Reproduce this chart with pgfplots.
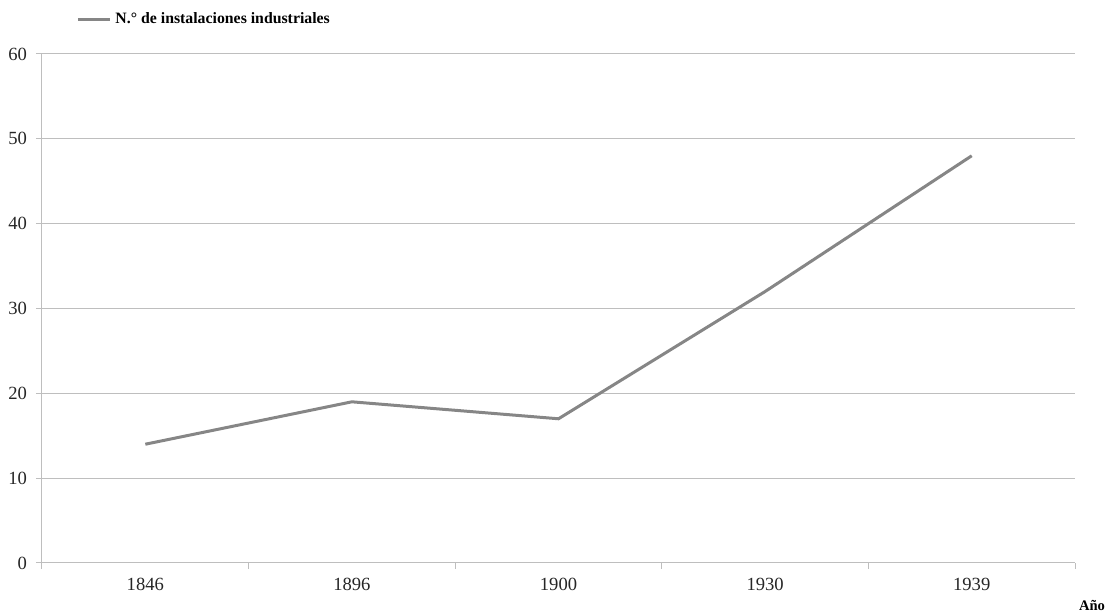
\documentclass[border=0pt]{standalone}
\usepackage{pgfplots}
\pgfplotsset{compat=1.18}
\usepackage{fontspec}
\setmainfont{Liberation Serif}
\definecolor{linegray}{RGB}{134,134,134}
\definecolor{gridgray}{RGB}{190,190,190}
\begin{document}
\begin{tikzpicture}
\path[use as bounding box] (0pt,0pt) rectangle (555.5pt,306.5pt);
\begin{axis}[
  at={(21pt,25pt)}, anchor=south west,
  scale only axis,
  width=516.5pt, height=254.5pt,
  xmin=-0.5, xmax=4.5, ymin=0, ymax=60,
  xtick={0,1,2,3,4},
  xticklabels={1846,1896,1900,1930,1939},
  minor xtick={-0.5,0.5,1.5,2.5,3.5,4.5},
  ytick={0,10,20,30,40,50,60},
  ymajorgrids,
  grid style={gridgray, line width=0.5pt},
  axis x line*=bottom, axis y line*=left,
  axis line style={gridgray, line width=0.5pt},
  x axis line style={-}, y axis line style={-},
  tick align=outside,
  major tick length=3pt,
  minor tick length=3pt,
  xtick style={draw=none},
  minor x tick style={draw=gridgray, line width=0.5pt},
  ytick style={gridgray, line width=0.5pt},
  every tick label/.append style={font=\fontsize{9.3pt}{11pt}\selectfont, text=black!85},
  xticklabel style={yshift=-1pt},
  yticklabel style={xshift=-1pt},
  /pgf/number format/assume math mode=true,
  legend style={at={(0.033,1.067)}, anchor=west, draw=none, fill=none,
    font=\bfseries\fontsize{7.9pt}{9pt}\selectfont, inner sep=0pt},
  legend image code/.code={\draw[#1] (0pt,0pt) -- (16pt,0pt);},
  clip=false,
]
\addplot[linegray, line width=1.5pt] coordinates {(0,14) (1,19) (2,17) (3,32) (4,48)};
\addlegendentry{N.° de instalaciones industriales}
\node[font=\bfseries\fontsize{7.3pt}{8pt}\selectfont, anchor=center] at (rel axis cs:1.0165,-0.0825) {Año};
\end{axis}
\end{tikzpicture}
\end{document}
